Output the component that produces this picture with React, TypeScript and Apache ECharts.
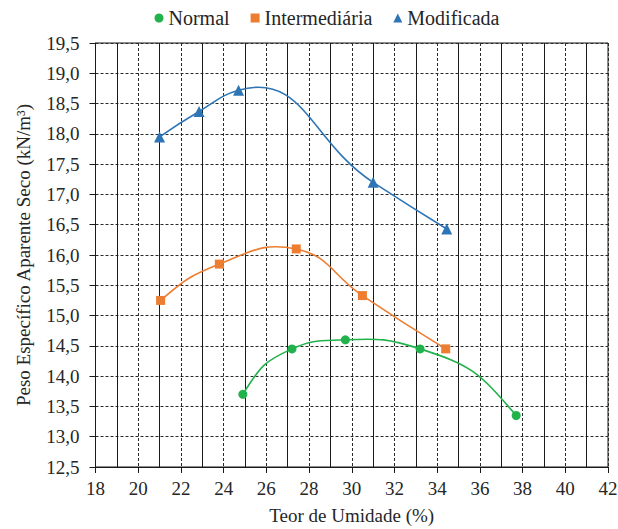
import React, { useEffect, useRef } from "react";
import * as echarts from "echarts";

const seriesNames = ["Normal", "Intermediária", "Modificada"];
const normal: [number, number][] = [
  [24.9, 13.7],
  [27.2, 14.45],
  [29.7, 14.6],
  [33.2, 14.45],
  [37.7, 13.35],
];
const intermediaria: [number, number][] = [
  [21.05, 15.25],
  [23.8, 15.85],
  [27.4, 16.1],
  [30.5, 15.33],
  [34.4, 14.45],
];
const modificada: [number, number][] = [
  [21.0, 17.95],
  [22.85, 18.37],
  [24.7, 18.72],
  [31.0, 17.2],
  [34.45, 16.43],
];
const xMin = 18;
const xMax = 42;
const xStep = 2;
const yMin = 12.5;
const yMax = 19.5;
const yStep = 0.5;

const colors = ["#21b24b", "#ed7d31", "#2e75b6"];
const symbols = ["circle", "rect", "triangle"];
const symbolSizes = [9, 9, 11];

const FONT = "'Liberation Serif', 'Times New Roman', serif";
const TXT = "#262626";

// smooth curve through the data points (pixel space, chord-weighted tangents)
function makeCurveRenderer(points: [number, number][], color: string) {
  return (params: any, api: any) => {
    if (params.dataIndex !== 0) return null;
    const P = points.map((p) => api.coord(p) as number[]);
    const n = P.length;
    const d: number[] = [];
    const u: number[][] = [];
    for (let i = 0; i < n - 1; i++) {
      const dx = P[i + 1][0] - P[i][0];
      const dy = P[i + 1][1] - P[i][1];
      const len = Math.sqrt(dx * dx + dy * dy) || 1;
      d.push(len);
      u.push([dx / len, dy / len]);
    }
    const m: number[][] = new Array(n);
    for (let i = 1; i < n - 1; i++) {
      const w0 = d[i];
      const w1 = d[i - 1];
      m[i] = [
        (u[i - 1][0] * w0 + u[i][0] * w1) / (w0 + w1),
        (u[i - 1][1] * w0 + u[i][1] * w1) / (w0 + w1),
      ];
    }
    m[0] = [2 * u[0][0] - m[1][0], 2 * u[0][1] - m[1][1]];
    m[n - 1] = [2 * u[n - 2][0] - m[n - 2][0], 2 * u[n - 2][1] - m[n - 2][1]];
    const k = 0.46;
    const children: any[] = [];
    for (let i = 0; i < n - 1; i++) {
      children.push({
        type: "bezierCurve",
        shape: {
          x1: P[i][0],
          y1: P[i][1],
          x2: P[i + 1][0],
          y2: P[i + 1][1],
          cpx1: P[i][0] + m[i][0] * d[i] * k,
          cpy1: P[i][1] + m[i][1] * d[i] * k,
          cpx2: P[i + 1][0] - m[i + 1][0] * d[i] * k,
          cpy2: P[i + 1][1] - m[i + 1][1] * d[i] * k,
        },
        style: { stroke: color, lineWidth: 1.6, fill: null },
      });
    }
    return { type: "group", children };
  };
}

export default function App() {
  const ref = useRef<HTMLDivElement>(null);
  useEffect(() => {
    if (!ref.current) return;
    const chart = echarts.init(ref.current, null, { renderer: "svg" });
    const datasets = [normal, intermediaria, modificada];
    chart.setOption({
      animation: false,
      textStyle: { fontFamily: FONT },
      legend: {
        top: 8,
        left: 154.5,
        padding: 0,
        itemWidth: 9,
        itemHeight: 9,
        itemGap: 21,
        textStyle: { fontFamily: FONT, fontSize: 20, color: TXT },
        data: seriesNames.map((n, i) => ({ name: n, icon: symbols[i] })),
      },
      grid: {
        left: 95.5,
        right: 10,
        top: 43,
        bottom: 62,
        show: true,
        borderColor: "#1a1a1a",
        borderWidth: 1,
        containLabel: false,
        outerBoundsMode: "none",
      },
      xAxis: {
        type: "value",
        min: xMin,
        max: xMax,
        interval: xStep,
        name: "Teor de Umidade (%)",
        nameLocation: "middle",
        nameGap: 39,
        nameTextStyle: { fontFamily: FONT, fontSize: 19, color: TXT },
        axisLine: { show: true, lineStyle: { color: "#1a1a1a", width: 1 } },
        axisTick: { show: true, length: 6, lineStyle: { color: "#1a1a1a" } },
        axisLabel: { fontFamily: FONT, fontSize: 19, color: TXT, margin: 12 },
        splitLine: { show: true, lineStyle: { color: "#2a2a2a", type: [3, 2], width: 1 } },
        minorTick: { show: false, splitNumber: 2 },
        minorSplitLine: { show: true, lineStyle: { color: "#1a1a1a", type: "solid", width: 1 } },
      },
      yAxis: {
        type: "value",
        min: yMin,
        max: yMax,
        interval: yStep,
        name: "Peso Específico Aparente Seco (kN/m³)",
        nameLocation: "middle",
        nameGap: 63,
        nameTextStyle: { fontFamily: FONT, fontSize: 19, color: TXT },
        axisLine: { show: true, lineStyle: { color: "#1a1a1a", width: 1 } },
        axisTick: { show: true, length: 6, lineStyle: { color: "#1a1a1a" } },
        axisLabel: {
          fontFamily: FONT,
          fontSize: 19,
          color: TXT,
          margin: 16,
          formatter: (v: number) => v.toFixed(1).replace(".", ","),
        },
        splitLine: { show: true, lineStyle: { color: "#2a2a2a", type: [3, 2], width: 1 } },
      },
      series: [
        ...seriesNames.map((n, i) => ({
          name: n,
          type: "scatter",
          data: datasets[i],
          symbol: symbols[i],
          symbolSize: symbolSizes[i],
          itemStyle: { color: colors[i], opacity: 1 },
          z: 5,
        })),
        ...seriesNames.map((n, i) => ({
          name: n,
          type: "custom",
          data: datasets[i],
          encode: { x: 0, y: 1 },
          renderItem: makeCurveRenderer(datasets[i], colors[i]),
          itemStyle: { color: colors[i] },
          z: 3,
          silent: true,
        })),
      ],
    });
    return () => chart.dispose();
  }, []);
  return (
    <div
      ref={ref}
      style={{ position: "absolute", left: 0, top: 0, width: 618, height: 529 }}
    />
  );
}
